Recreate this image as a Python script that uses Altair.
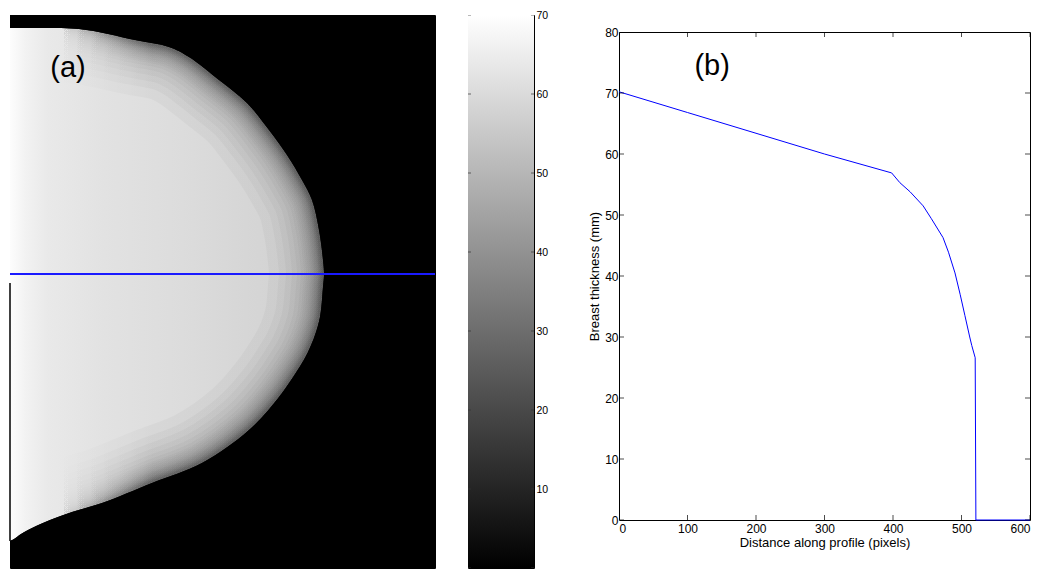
import altair as alt
import pandas as pd

# ---------------- Panel (a): thickness image (pixel coordinates of the image) -------------
img_width = [425]
img_height = [553]
# outline of the breast: for each image row, the right-most column of the tissue
bnd_row = [13, 14, 25, 32, 42, 65, 88, 115, 140, 165, 185, 215, 245, 259, 272, 302, 320, 337,
           348, 382, 415, 448, 468, 488, 497, 505, 513, 519, 524, 526]
bnd_col = [5, 69, 125, 159, 179, 209, 237, 259, 277, 292, 302, 309, 313, 314, 313, 310, 305, 298,
           292, 269, 239, 192, 142, 92, 62, 40, 22, 11, 4, 0]
profile_row = [259]          # row of the sampled profile (blue line)
edge_col = [0]
edge_row_top = [268]
edge_row_bottom = [526]
label_a_col = [58]
label_a_row = [53]
label_a = ["(a)"]

# ---------------- Colour bar ----------------
cbar_lo = [0]
cbar_hi = [70]
cbar_ticks = [0, 10, 20, 30, 40, 50, 60, 70]
cbar_labels = [10, 20, 30, 40, 50, 60, 70]

# ---------------- Panel (b): thickness profile ----------------
distance = [0, 100, 200, 300, 398, 410, 425, 444, 456, 473, 481, 490.5, 498, 505, 512, 515, 520, 521, 600]
thickness = [70.2, 66.8, 63.4, 60.0, 56.9, 55.3, 53.8, 51.5, 49.4, 46.3, 43.9, 40.5, 37.0, 33.5, 30.0,
             28.6, 26.6, 0.0, 0.0]
x_ticks = [0, 100, 200, 300, 400, 500, 600]
y_ticks = [0, 10, 20, 30, 40, 50, 60, 70, 80]
label_b_x = [136]
label_b_y = [74.4]
label_b = ["(b)"]

FONT = "Liberation Sans"

# ---------- build panel (a) ----------
W = img_width[0]
H = img_height[0]
xs = alt.Scale(domain=[0, W], nice=False, zero=False)
ys = alt.Scale(domain=[0, H], nice=False, zero=False, reverse=True)

shape = pd.DataFrame({"row": bnd_row, "col": bnd_col, "left": 0, "right": W})
frame = pd.DataFrame({"c0": [0], "c1": img_width, "r0": [0], "r1": img_height})
bands = pd.DataFrame({"r0": [0, bnd_row[-1]], "r1": [bnd_row[0], H], "c0": [0, 0], "c1": [W, W]})

bg = alt.Chart(frame).mark_rect(color="black").encode(
    x=alt.X("c0:Q", scale=xs, axis=None), x2="c1:Q",
    y=alt.Y("r0:Q", scale=ys, axis=None), y2="r1:Q")

grad = alt.Gradient(
    gradient="linear",
    stops=[alt.GradientStop(color="#fdfdfd", offset=0),
           alt.GradientStop(color="#f2f2f2", offset=0.05),
           alt.GradientStop(color="#e9e9e9", offset=0.12),
           alt.GradientStop(color="#e2e2e2", offset=0.3),
           alt.GradientStop(color="#dcdcdc", offset=0.55),
           alt.GradientStop(color="#d6d6d6", offset=0.75),
           alt.GradientStop(color="#d0d0d0", offset=1)],
    x1=0, x2=1, y1=0, y2=0)

CURVE = "catmull-rom"
tissue = alt.Chart(shape).mark_area(orient="horizontal", color=grad, interpolate=CURVE).encode(
    x=alt.X("col:Q", scale=xs, axis=None), x2="left:Q",
    y=alt.Y("row:Q", scale=ys, axis=None))

# soft darkening towards the skin line (fades out towards the chest wall on the left)
rim_grad = alt.Gradient(
    gradient="linear",
    stops=[alt.GradientStop(color="rgba(0,0,0,0)", offset=0),
           alt.GradientStop(color="rgba(0,0,0,0)", offset=0.15),
           alt.GradientStop(color="rgba(0,0,0,1)", offset=0.45),
           alt.GradientStop(color="rgba(0,0,0,1)", offset=1)],
    x1=0, x2=1, y1=0, y2=0)
rim_half_widths = [55, 45, 38, 32, 27, 23, 20, 18, 16, 14, 12.5, 11, 10, 9, 8, 7, 6.2, 5.5, 5,
                   4.4, 3.8, 3.3, 2.8, 2.4, 2.1]
rims = []
for h in rim_half_widths:
    rims.append(alt.Chart(shape).mark_line(stroke=rim_grad, strokeOpacity=0.03, strokeWidth=2 * h,
                                           strokeCap="round", strokeJoin="round", clip=True,
                                           interpolate=CURVE).encode(
        x=alt.X("col:Q", scale=xs, axis=None),
        y=alt.Y("row:Q", scale=ys, axis=None),
        order="row:Q"))

outside = alt.Chart(shape).mark_area(orient="horizontal", color="black", interpolate=CURVE).encode(
    x=alt.X("col:Q", scale=xs, axis=None), x2="right:Q",
    y=alt.Y("row:Q", scale=ys, axis=None))
outside_tb = alt.Chart(bands).mark_rect(color="black").encode(
    y=alt.Y("r0:Q", scale=ys, axis=None), y2="r1:Q",
    x=alt.X("c0:Q", scale=xs, axis=None), x2="c1:Q")

left_edge = alt.Chart(pd.DataFrame({"c": edge_col, "r0": edge_row_top, "r1": edge_row_bottom})).mark_rule(
    color="black", strokeWidth=1.5).encode(
    x=alt.X("c:Q", scale=xs, axis=None), y=alt.Y("r0:Q", scale=ys, axis=None), y2="r1:Q")

blue = alt.Chart(pd.DataFrame({"row": profile_row})).mark_rule(color="#1a1aff", strokeWidth=2).encode(
    y=alt.Y("row:Q", scale=ys, axis=None))

txt_a = alt.Chart(pd.DataFrame({"c": label_a_col, "r": label_a_row, "t": label_a})).mark_text(
    font=FONT, fontSize=29, color="black", align="center", baseline="middle").encode(
    x=alt.X("c:Q", scale=xs, axis=None), y=alt.Y("r:Q", scale=ys, axis=None), text="t:N")

panel_a = alt.layer(bg, tissue, *rims, outside, outside_tb, left_edge, blue, txt_a).properties(
    width=W, height=H)

# ---------- colour bar ----------
cys = alt.Scale(domain=[0, 70], nice=False, zero=False)
cxs = alt.Scale(domain=[0, 1], nice=False, zero=False)
cgrad = alt.Gradient(gradient="linear",
                     stops=[alt.GradientStop(color="#000000", offset=0),
                            alt.GradientStop(color="#ffffff", offset=1)],
                     x1=0, x2=0, y1=1, y2=0)
cb_rect = alt.Chart(pd.DataFrame({"lo": cbar_lo, "hi": cbar_hi, "a": [0], "b": [1]})).mark_rect(
    color=cgrad).encode(
    x=alt.X("a:Q", scale=cxs, axis=None), x2="b:Q",
    y=alt.Y("lo:Q", scale=cys,
            axis=alt.Axis(orient="right", values=cbar_labels, ticks=False, domain=False, grid=False,
                          labelFontSize=10.5, labelPadding=2, labelColor="black", title=None,
                          labelFont=FONT)),
    y2="hi:Q")
cbt = pd.DataFrame({"v": cbar_ticks})
cb_tl = alt.Chart(cbt).mark_tick(orient="horizontal", size=6, thickness=1, color="#333333", clip=True).encode(
    y=alt.Y("v:Q", scale=cys), x=alt.X(datum=0, scale=cxs))
cb_tr = alt.Chart(cbt).mark_tick(orient="horizontal", size=6, thickness=1, color="#333333", clip=True).encode(
    y=alt.Y("v:Q", scale=cys), x=alt.X(datum=1, scale=cxs))
colorbar = alt.layer(cb_rect, cb_tl, cb_tr).properties(width=66, height=H)

# ---------- panel (b) ----------
bxs = alt.Scale(domain=[0, 600], nice=False, zero=False)
bys = alt.Scale(domain=[0, 80], nice=False, zero=False)
prof = pd.DataFrame({"d": distance, "t": thickness, "i": list(range(len(distance)))})
line = alt.Chart(prof).mark_line(color="#0000ff", strokeWidth=1).encode(
    x=alt.X("d:Q", scale=bxs,
            axis=alt.Axis(values=x_ticks, ticks=False, domain=False, grid=False, labelFontSize=12,
                          labelPadding=3, labelColor="black", labelFont=FONT,
                          title="Distance along profile (pixels)", titleFontSize=13,
                          titleFontWeight="normal", titleColor="black", titleFont=FONT, titlePadding=2)),
    y=alt.Y("t:Q", scale=bys,
            axis=alt.Axis(values=y_ticks, ticks=False, domain=False, grid=False, labelFontSize=12,
                          labelPadding=1, labelColor="black", labelFont=FONT,
                          title="Breast thickness (mm)", titleFontSize=13, titleFontWeight="normal",
                          titleColor="black", titleFont=FONT, titlePadding=3)),
    order="i:Q")
xt = pd.DataFrame({"v": x_ticks})
yt = pd.DataFrame({"v": y_ticks})
tk_bottom = alt.Chart(xt).mark_tick(orient="vertical", size=10, thickness=1, color="black", clip=True).encode(
    x=alt.X("v:Q", scale=bxs), y=alt.Y(datum=0, scale=bys))
tk_top = alt.Chart(xt).mark_tick(orient="vertical", size=10, thickness=1, color="black", clip=True).encode(
    x=alt.X("v:Q", scale=bxs), y=alt.Y(datum=80, scale=bys))
tk_left = alt.Chart(yt).mark_tick(orient="horizontal", size=10, thickness=1, color="black", clip=True).encode(
    y=alt.Y("v:Q", scale=bys), x=alt.X(datum=0, scale=bxs))
tk_right = alt.Chart(yt).mark_tick(orient="horizontal", size=10, thickness=1, color="black", clip=True).encode(
    y=alt.Y("v:Q", scale=bys), x=alt.X(datum=600, scale=bxs))
txt_b = alt.Chart(pd.DataFrame({"x": label_b_x, "y": label_b_y, "t": label_b})).mark_text(
    font=FONT, fontSize=29, color="black", align="center", baseline="middle").encode(
    x=alt.X("x:Q", scale=bxs), y=alt.Y("y:Q", scale=bys), text="t:N")
panel_b = alt.layer(line, tk_bottom, tk_top, tk_left, tk_right, txt_b).properties(width=411, height=488)

spacer = alt.Chart(pd.DataFrame({"v": [0]})).mark_point(opacity=0).encode(
    x=alt.X("v:Q", axis=None), y=alt.Y("v:Q", axis=None)).properties(
    width=1, height=17, view=alt.ViewBackground(stroke="transparent"))

left = alt.hconcat(panel_a, colorbar, spacing=33, bounds="flush")
right = alt.vconcat(spacer, panel_b, spacing=0, bounds="flush")

chart = alt.hconcat(left, right, spacing=39).properties(
    padding={"left": 0, "top": 1, "right": 0, "bottom": 0},
    background="white"
).configure_view(stroke="black", strokeWidth=1).configure_axis(labelFont=FONT, titleFont=FONT)

chart.save("out.html", embed_options={"renderer": "svg", "actions": False})
